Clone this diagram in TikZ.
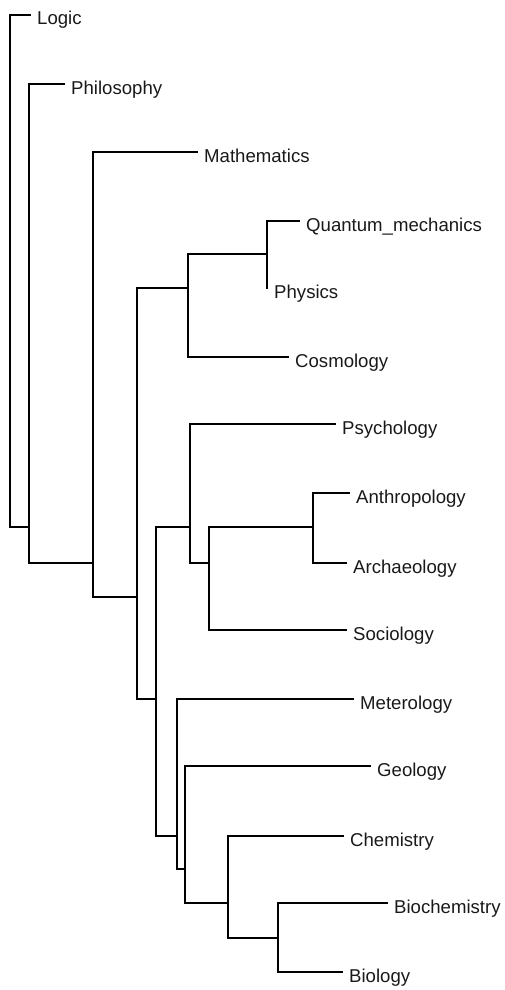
\documentclass[tikz,border=0pt]{standalone}
\usepackage{fontspec}
\setmainfont{Liberation Sans}
\begin{document}
\begin{tikzpicture}[x=1pt,y=-1pt,
  edge/.style={draw=black,line width=1.4pt,line cap=rect},
  lab/.style={anchor=base west,inner sep=0pt,text=black!90,font=\fontsize{18.6}{22}\selectfont}]
\useasboundingbox (0,0) rectangle (504,990);
% internal nodes
\coordinate (R) at (10,493);
\coordinate (A) at (29,527);
\coordinate (B) at (93,563);
\coordinate (C) at (137,597);
\coordinate (D) at (188,288);
\coordinate (F) at (267,254);
\coordinate (E) at (156,699);
\coordinate (G) at (190,527);
\coordinate (I) at (209,563);
\coordinate (J) at (313,527);
\coordinate (H) at (177,836);
\coordinate (K) at (185,869);
\coordinate (L) at (228,903);
\coordinate (M) at (278,938);
% leaves
\newcommand\myleaf[4]{\coordinate (#1) at (#2,#3); \node[lab] (#1-l) at (#2+7,#3+10) {#4};}
\myleaf{logic}{30}{15}{Logic}
\myleaf{philo}{64}{84}{Philosophy}
\myleaf{math}{197}{152}{Mathematics}
\myleaf{quant}{299}{221}{Quantum\_mechanics}
\myleaf{phys}{267}{288}{Physics}
\myleaf{cosmo}{288}{357}{Cosmology}
\myleaf{psych}{335}{424}{Psychology}
\myleaf{anthro}{349}{493}{Anthropology}
\myleaf{arch}{346}{563}{Archaeology}
\myleaf{soc}{346}{630}{Sociology}
\myleaf{meteo}{353}{699}{Meterology}
\myleaf{geo}{370}{766}{Geology}
\myleaf{chem}{343}{836}{Chemistry}
\myleaf{biochem}{387}{903}{Biochemistry}
\myleaf{bio}{342}{972}{Biology}
% edges
\draw[edge] (R) |- (logic);
\draw[edge] (R) |- (A);
\draw[edge] (A) |- (philo);
\draw[edge] (A) |- (B);
\draw[edge] (B) |- (math);
\draw[edge] (B) |- (C);
\draw[edge] (C) |- (D);
\draw[edge] (C) |- (E);
\draw[edge] (D) |- (F);
\draw[edge] (D) |- (cosmo);
\draw[edge] (F) |- (quant);
\draw[edge] (F) |- (phys);
\draw[edge] (E) |- (G);
\draw[edge] (E) |- (H);
\draw[edge] (G) |- (psych);
\draw[edge] (G) |- (I);
\draw[edge] (I) |- (J);
\draw[edge] (I) |- (soc);
\draw[edge] (J) |- (anthro);
\draw[edge] (J) |- (arch);
\draw[edge] (H) |- (meteo);
\draw[edge] (H) |- (K);
\draw[edge] (K) |- (geo);
\draw[edge] (K) |- (L);
\draw[edge] (L) |- (chem);
\draw[edge] (L) |- (M);
\draw[edge] (M) |- (biochem);
\draw[edge] (M) |- (bio);
\end{tikzpicture}
\end{document}
